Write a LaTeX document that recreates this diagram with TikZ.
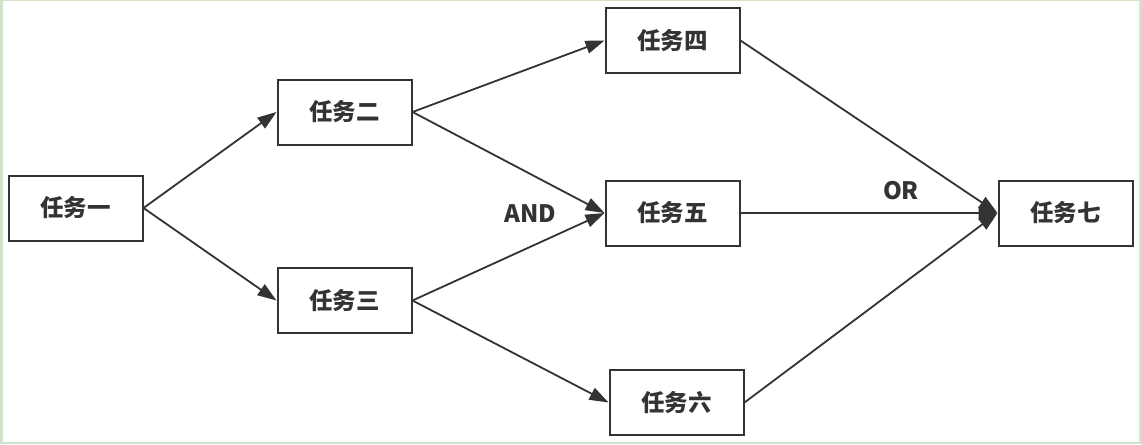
\documentclass[tikz,border=0pt]{standalone}
\usepackage{fontspec}
\setmainfont{Noto Sans CJK SC}
\usetikzlibrary{arrows.meta,positioning}
\definecolor{frame}{HTML}{D3E3C9}
\definecolor{ink}{HTML}{333333}

\begin{document}
\begin{tikzpicture}[x=1pt, y=-1pt,
    task/.style={draw=ink, line width=2pt, minimum width=134pt, minimum height=65pt,
      text=ink, font=\fontsize{23.5}{27}\selectfont\bfseries},
    flow/.style={draw=ink, line width=1.8pt, -{Triangle[length=19pt,width=13pt]}},
    gate/.style={text=ink, font=\fontsize{24}{28}\selectfont\bfseries}]
  % frame
  \fill[frame] (0,0) rectangle (1142,444);
  \fill[white] (3,1) rectangle (1139,442);
  % tasks
  \node[task] (t1) at (75.5,208) {任务一};
  \node[task] (t2) at (344.5,112) {任务二};
  \node[task] (t3) at (344.5,300.5) {任务三};
  \node[task] (t4) at (672.5,40.5) {任务四};
  \node[task] (t5) at (672.5,213) {任务五};
  \node[task] (t6) at (676.5,402.5) {任务六};
  \node[task] (t7) at (1065.5,213) {任务七};
  % gates
  \node[gate] (and) at (530,214) {AND};
  \node[gate] (or) at (901,191) {OR};
  % arrows
  \draw[flow] (t1.east) -- (t2.west);
  \draw[flow] (t1.east) -- (t3.west);
  \draw[flow] (t2.east) -- (t4.west);
  \draw[flow] (t2.east) -- (t5.west);
  \draw[flow] (t3.east) -- (t5.west);
  \draw[flow] (t3.east) -- (t6.west);
  \draw[flow] (t4.east) -- (t7.west);
  \draw[flow] (t5.east) -- (t7.west);
  \draw[flow] (t6.east) -- (t7.west);
\end{tikzpicture}
\end{document}
